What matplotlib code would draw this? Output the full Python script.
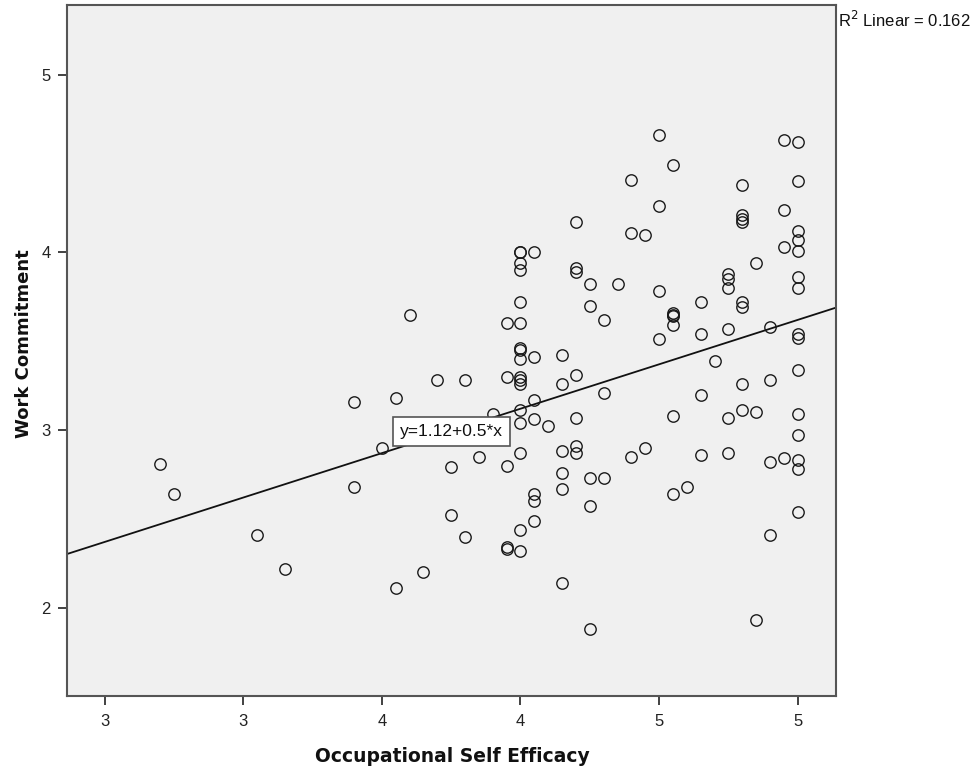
import numpy as np
import matplotlib
matplotlib.use("Agg")
import matplotlib.pyplot as plt

plt.rcParams['font.family'] = ['Liberation Sans', 'DejaVu Sans']

# Occupational Self Efficacy (x) and Work Commitment (y)
efficacy = [2.70, 2.75, 3.05, 3.15,
            3.40, 3.40, 3.50, 3.55, 3.55, 3.60, 3.65, 3.70, 3.75, 3.75, 3.80, 3.80,
            3.85, 3.90, 3.95, 3.95, 3.95, 3.95, 3.95,
            4.00, 4.00, 4.00, 4.00, 4.00, 4.00, 4.00, 4.00, 4.00, 4.00, 4.00, 4.00,
            4.00, 4.00, 4.00, 4.00, 4.00,
            4.05, 4.05, 4.05, 4.05, 4.05, 4.05, 4.05,
            4.10,
            4.15, 4.15, 4.15, 4.15, 4.15, 4.15,
            4.20, 4.20, 4.20, 4.20, 4.20, 4.20, 4.20,
            4.25, 4.25, 4.25, 4.25, 4.25,
            4.30, 4.30, 4.30,
            4.35,
            4.40, 4.40, 4.40,
            4.45, 4.45,
            4.50, 4.50, 4.50, 4.50,
            4.55, 4.55, 4.55, 4.55, 4.55, 4.55, 4.55,
            4.60,
            4.65, 4.65, 4.65, 4.65,
            4.70,
            4.75, 4.75, 4.75, 4.75, 4.75, 4.75,
            4.80, 4.80, 4.80, 4.80, 4.80, 4.80, 4.80, 4.80,
            4.85, 4.85, 4.85,
            4.90, 4.90, 4.90, 4.90,
            4.95, 4.95, 4.95, 4.95,
            5.00, 5.00, 5.00, 5.00, 5.00, 5.00, 5.00, 5.00, 5.00, 5.00, 5.00,
            5.00, 5.00, 5.00, 5.00]
commitment = [2.81, 2.64, 2.41, 2.22,
              3.16, 2.68, 2.90, 3.18, 2.11, 3.65, 2.20, 3.28, 2.79, 2.52, 3.28, 2.40,
              2.85, 3.09, 3.60, 3.30, 2.80, 2.34, 2.33,
              4.00, 4.00, 3.94, 3.90, 3.72, 3.60, 3.46, 3.45, 3.40, 3.30, 3.28, 3.26,
              3.11, 3.04, 2.87, 2.44, 2.32,
              4.00, 3.41, 3.17, 3.06, 2.64, 2.60, 2.49,
              3.02,
              3.42, 3.26, 2.88, 2.76, 2.67, 2.14,
              4.17, 3.91, 3.89, 3.31, 3.07, 2.91, 2.87,
              3.82, 3.70, 2.73, 2.57, 1.88,
              3.62, 3.21, 2.73,
              3.82,
              4.41, 4.11, 2.85,
              4.10, 2.90,
              4.66, 4.26, 3.78, 3.51,
              4.49, 3.66, 3.65, 3.64, 3.59, 3.08, 2.64,
              2.68,
              3.72, 3.54, 3.20, 2.86,
              3.39,
              3.88, 3.85, 3.80, 3.57, 3.07, 2.87,
              4.38, 4.21, 4.19, 4.17, 3.72, 3.69, 3.26, 3.11,
              3.94, 3.10, 1.93,
              3.58, 3.28, 2.82, 2.41,
              4.63, 4.24, 4.03, 2.84,
              4.62, 4.40, 4.12, 4.07, 4.01, 3.86, 3.80, 3.54, 3.52, 3.34, 3.09,
              2.97, 2.83, 2.78, 2.54]

intercept = 1.12
slope = 0.5
r2 = 0.162

x_ticks = [2.5, 3.0, 3.5, 4.0, 4.5, 5.0]
x_ticklabels = ['3', '3', '4', '4', '5', '5']
y_ticks = [2, 3, 4, 5]
y_ticklabels = ['2', '3', '4', '5']

fig = plt.figure(figsize=(9.77, 7.74), dpi=100)
ax = fig.add_axes([0.0683, 0.1012, 0.7874, 0.8923])
ax.set_facecolor('#f0f0f0')

ax.plot(efficacy, commitment, linestyle='none', marker='o', markersize=8.2,
        markerfacecolor='none', markeredgecolor='#1a1a1a', markeredgewidth=1.0, zorder=3)
ax.axline((0, intercept), slope=slope, color='#111111', linewidth=1.3, zorder=2)

ax.set_xlim(2.3635, 5.138)
ax.set_ylim(1.505, 5.392)

ax.set_xticks(x_ticks)
ax.set_xticklabels(x_ticklabels)
ax.set_yticks(y_ticks)
ax.set_yticklabels(y_ticklabels)
ax.tick_params(axis='both', direction='out', length=6.5, width=1.3, color='#333333',
               labelsize=12, labelcolor='#222222')
ax.tick_params(axis='x', pad=6.5)
ax.tick_params(axis='y', pad=5)

for s in ax.spines.values():
    s.set_color('#555555')
    s.set_linewidth(1.5)

# axis titles (bold, wide)
fig.text(452 / 977, 1 - 762 / 774, 'Occupational Self Efficacy', family='DejaVu Sans',
         fontsize=13.5, fontweight='bold', ha='center', va='baseline', color='#111111')
fig.text(24 / 977, 1 - 344 / 774, 'Work Commitment', family='DejaVu Sans',
         fontsize=13, fontweight='bold', ha='center', va='center', rotation=90,
         color='#111111')

ax.text(3.752, 2.993, 'y=%.2f+%.1f*x' % (intercept, slope), ha='center', va='center',
        fontsize=12.5, color='#111111', zorder=5,
        bbox=dict(boxstyle='square,pad=0.4', facecolor='white', edgecolor='#555555', linewidth=1.2))

fig.text(0.8577, 1 - 27 / 774, 'R$^2$ Linear = %.3f' % r2, fontsize=12, color='#111111',
         ha='left', va='baseline')

fig.savefig('out.png', dpi=100)
